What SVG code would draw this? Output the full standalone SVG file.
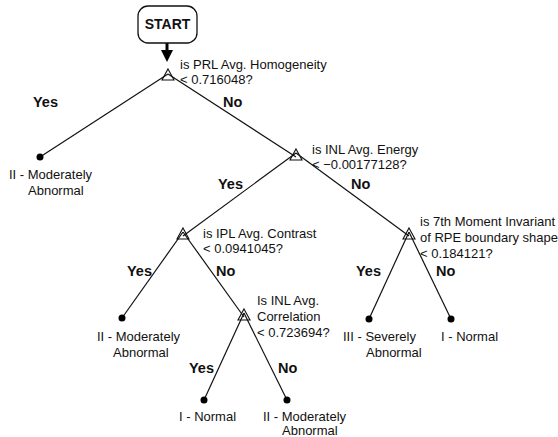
<svg xmlns="http://www.w3.org/2000/svg" width="558" height="437" viewBox="0 0 558 437">
<defs>
<style>
text{font-family:"Liberation Sans",Arial,sans-serif;font-size:13px;fill:#111}
.b{font-weight:bold;font-size:14.5px}
.st{font-weight:bold;font-size:14px}
.e{stroke:#111;stroke-width:1.2;fill:none}
.tri{stroke:#111;stroke-width:1.1;fill:none}
.dot{fill:#000}
</style>
<marker id="ah" markerWidth="4" markerHeight="4" refX="2" refY="2" orient="auto" markerUnits="strokeWidth"><path d="M0,0 L4,2 L0,4 z" fill="#000"/></marker>
</defs>
<rect width="558" height="437" fill="#fff"/>
<g id="connectors">
<line x1="167" y1="43" x2="167" y2="56" stroke="#000" stroke-width="3" marker-end="url(#ah)"/>
<line class="e" x1="168" y1="74" x2="40" y2="157"/>
<line class="e" x1="168" y1="74" x2="296" y2="157"/>
<line class="e" x1="296" y1="153" x2="183" y2="236"/>
<line class="e" x1="296" y1="153" x2="409" y2="236"/>
<line class="e" x1="183" y1="232" x2="122" y2="318"/>
<line class="e" x1="183" y1="232" x2="244" y2="317"/>
<line class="e" x1="409" y1="232" x2="369" y2="319"/>
<line class="e" x1="409" y1="232" x2="451" y2="319"/>
<line class="e" x1="244" y1="313" x2="204" y2="400"/>
<line class="e" x1="244" y1="313" x2="287" y2="400"/>
<text class="b" x="33" y="107">Yes</text>
<text class="b" x="223" y="107">No</text>
<text class="b" x="218" y="189">Yes</text>
<text class="b" x="351" y="189">No</text>
<text class="b" x="127" y="276">Yes</text>
<text class="b" x="216" y="276">No</text>
<text class="b" x="356" y="276">Yes</text>
<text class="b" x="436" y="276">No</text>
<text class="b" x="189" y="373">Yes</text>
<text class="b" x="278" y="373">No</text>
</g>
<g id="start">
<rect x="138" y="6" width="59" height="37" rx="10" fill="#fff" stroke="#111" stroke-width="1.3"/>
<text class="st" x="167.5" y="29" text-anchor="middle">START</text>
</g>
<g id="n1">
<path class="tri" d="M168,69 L174,80 L162,80 Z"/>
<text x="180" y="69">is PRL Avg. Homogeneity</text>
<text x="180" y="84">&lt; 0.716048?</text>
</g>
<g id="n2">
<path class="tri" d="M296,149 L302,160 L290,160 Z"/>
<text x="312" y="154">is INL Avg. Energy</text>
<text x="312" y="169">&lt; −0.00177128?</text>
</g>
<g id="n3">
<path class="tri" d="M183,228 L189,239 L177,239 Z"/>
<text x="203" y="238">is IPL Avg. Contrast</text>
<text x="203" y="253">&lt; 0.0941045?</text>
</g>
<g id="n4">
<path class="tri" d="M409,228 L415,239 L403,239 Z"/>
<text x="420" y="226">is 7th Moment Invariant</text>
<text x="420" y="242">of RPE boundary shape</text>
<text x="420" y="258">&lt; 0.184121?</text>
</g>
<g id="n5">
<path class="tri" d="M244,309 L250,320 L238,320 Z"/>
<text x="257" y="305">Is INL Avg.</text>
<text x="257" y="321">Correlation</text>
<text x="257" y="337">&lt; 0.723694?</text>
</g>
<g id="leaf1">
<circle class="dot" cx="40" cy="157" r="3.5"/>
<text x="9" y="179">II - Moderately</text>
<text x="28" y="195">Abnormal</text>
</g>
<g id="leaf2">
<circle class="dot" cx="122" cy="318" r="3.5"/>
<text x="97" y="341">II - Moderately</text>
<text x="113" y="357">Abnormal</text>
</g>
<g id="leaf3">
<circle class="dot" cx="369" cy="319" r="3.5"/>
<text x="343" y="341">III - Severely</text>
<text x="366" y="357">Abnormal</text>
</g>
<g id="leaf4">
<circle class="dot" cx="451" cy="319" r="3.5"/>
<text x="441" y="341">I - Normal</text>
</g>
<g id="leaf5">
<circle class="dot" cx="204" cy="400" r="3.5"/>
<text x="179" y="421">I - Normal</text>
</g>
<g id="leaf6">
<circle class="dot" cx="287" cy="400" r="3.5"/>
<text x="263" y="421">II - Moderately</text>
<text x="282" y="435">Abnormal</text>
</g>
</svg>
